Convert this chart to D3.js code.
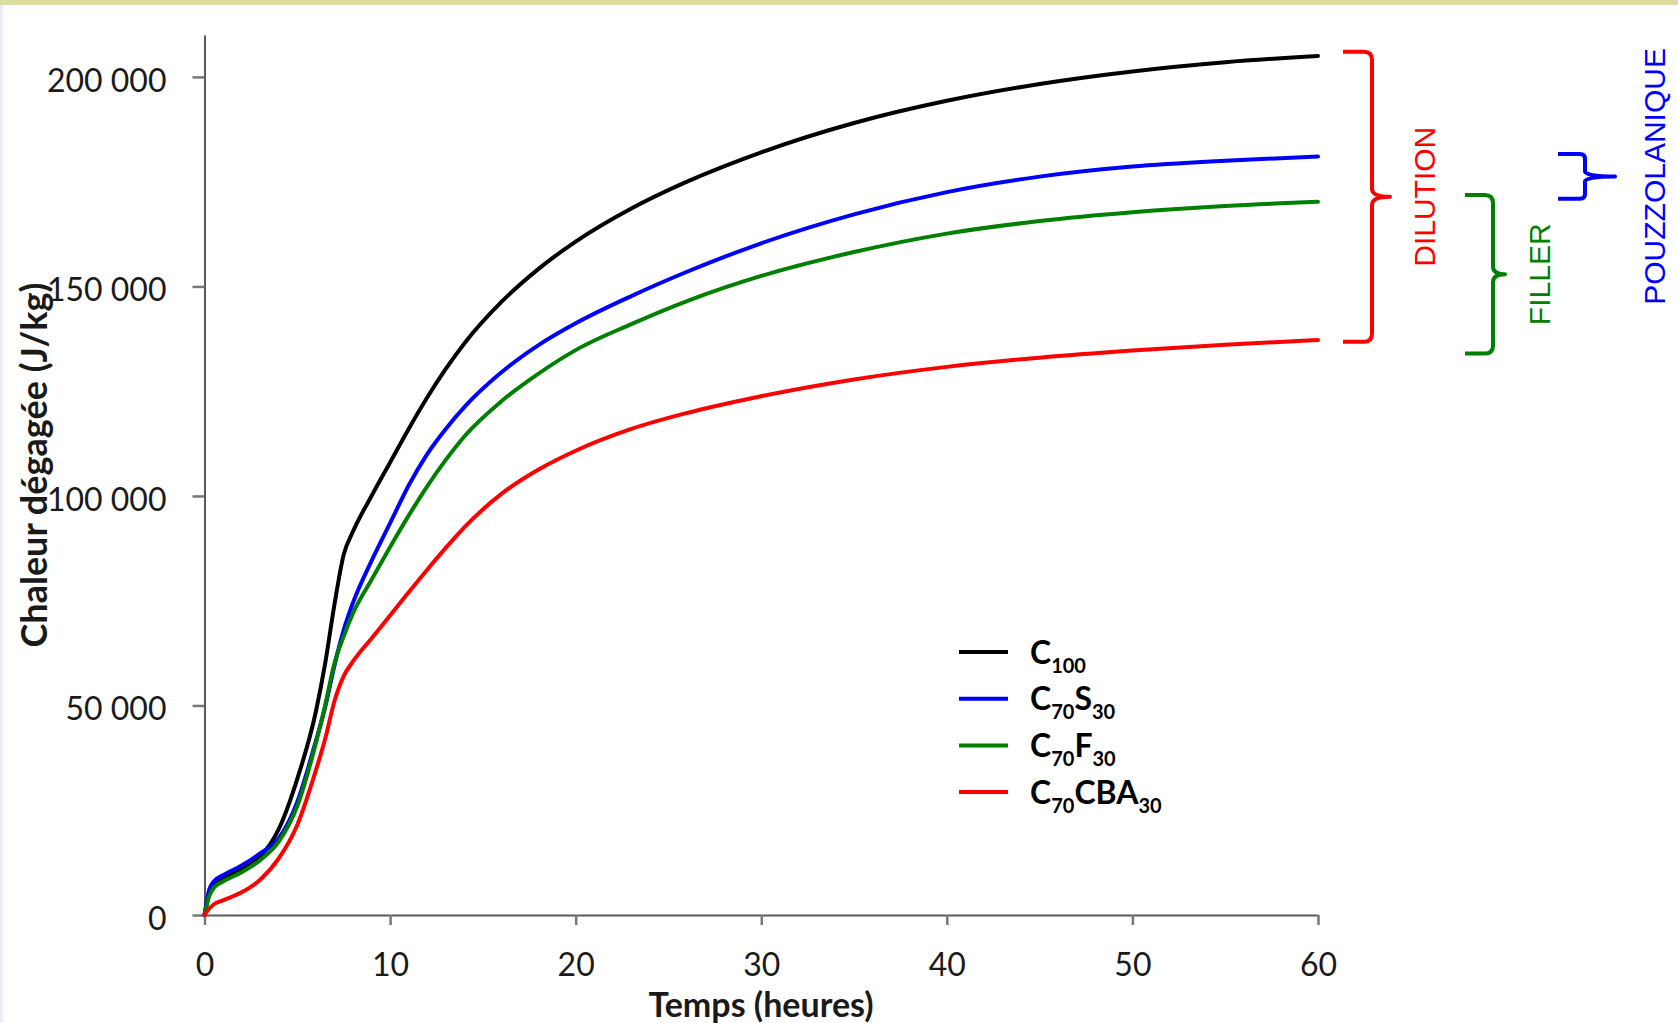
<!DOCTYPE html>
<html lang="fr">
<head>
<meta charset="utf-8">
<title>Chaleur dégagée</title>
<script src="https://cdn.jsdelivr.net/npm/d3@7"></script>
<style>
    html, body { margin: 0; padding: 0; background: #ffffff; }
    svg { display: block; }
</style>
</head>
<body>
<svg id="chart" width="1678" height="1023"></svg>
<script>
// --- Data ---
// Time in hours
const hours = [0, 0.25, 0.5, 1, 2, 3, 4, 5, 6, 6.5, 7, 7.5, 8, 9, 10, 11, 12, 13, 14, 16, 18, 20, 23, 26, 30, 35, 40, 45, 50, 55, 60];
// Cumulated heat released (J/kg) for each mix
const heatC100 = [0, 5000, 7000, 8800, 10800, 13900, 20500, 32500, 48500, 60000, 74000, 86000, 91500, 100000, 108000, 116000, 123500, 130300, 136400, 146300, 154200, 160700, 168600, 175000, 182000, 189000, 194300, 198300, 201300, 203500, 205000];
const heatC70S30 = [0, 6000, 8000, 9500, 11800, 14700, 18300, 27000, 41500, 49500, 59500, 68000, 74500, 84500, 93500, 102500, 110000, 116000, 121200, 129500, 136000, 141200, 147700, 153500, 160300, 167200, 172500, 176200, 178600, 180000, 181000];
const heatC70F30 = [0, 4500, 6500, 8000, 10200, 13100, 17500, 26000, 41000, 50000, 60000, 66500, 72000, 80000, 87800, 95300, 102300, 108600, 114200, 122600, 129200, 134800, 141000, 146500, 152500, 158200, 162600, 165600, 167700, 169200, 170200];
const heatC70CBA30 = [0, 1500, 2500, 3500, 5400, 8400, 13500, 21500, 34500, 42000, 51000, 57000, 60500, 66000, 71500, 77000, 82400, 87600, 92500, 100500, 106300, 110800, 116000, 119800, 123800, 127800, 130800, 133000, 134700, 136100, 137200];

const seriesNames = ["C100", "C70S30", "C70F30", "C70CBA30"];
const seriesValues = [heatC100, heatC70S30, heatC70F30, heatC70CBA30];
const seriesColors = ["#000000", "#0000ff", "#008000", "#ff0000"];

const xTicks = [0, 10, 20, 30, 40, 50, 60];
const yTicks = [0, 50000, 100000, 150000, 200000];

// Brackets on the right: label and the span of heat (J/kg) they cover at 60 h
const bracketLabels = ["DILUTION", "FILLER", "POUZZOLANIQUE"];
const bracketColors = ["#ff0000", "#008000", "#0000ff"];
const bracketSpans = [[206000, 136800], [171800, 134000], [181600, 170900]];

(function () {
    // --- Layout ---
    const WIDTH = 1678;
    const HEIGHT = 1023;
    const LINE_WIDTH = 4;
    const TICK_FONT = "Lato, 'Open Sans', sans-serif";
    const NOTE_FONT = "'Liberation Sans', Arial, sans-serif";

    const svg = d3.select("#chart");

    // slide frame leftovers: yellow band on top, pale strip on the left
    svg.append("rect").attr("x", 0).attr("y", 0).attr("width", WIDTH).attr("height", 5).attr("fill", "#dcdda1");
    svg.append("rect").attr("x", 0).attr("y", 5).attr("width", 3).attr("height", HEIGHT - 5).attr("fill", "#ededf6");

    const x = d3.scaleLinear().domain([0, 60]).range([204.5, 1318]);
    const y = d3.scaleLinear().domain([0, 210000]).range([915, 35]);

    // French number format: "200 000"
    const fr = d3.formatLocale({ decimal: ",", thousands: " ", grouping: [3], currency: ["", " €"] });
    const fmt = fr.format(",d");

    // --- Axes ---
    const yAxis = d3.axisLeft(y)
        .tickValues(yTicks)
        .tickFormat(fmt)
        .tickSize(12)
        .tickSizeOuter(0)
        .tickPadding(26);

    const xAxis = d3.axisBottom(x)
        .tickValues(xTicks)
        .tickSize(10)
        .tickSizeOuter(0)
        .tickPadding(28);

    const gy = svg.append("g").attr("transform", `translate(${x(0)},0)`).call(yAxis);
    const gx = svg.append("g").attr("transform", `translate(0,${y(0)})`).call(xAxis);

    [gx, gy].forEach(g => {
        g.select(".domain").attr("stroke", "#5a5a5a").attr("stroke-width", 2);
        g.selectAll(".tick line").attr("stroke", "#777777").attr("stroke-width", 2.5);
        g.selectAll(".tick text")
            .attr("fill", "#1a1a1a")
            .style("font-family", TICK_FONT)
            .style("font-size", "32px");
    });
    // labels sit a little lower than the tick marks in the original
    gy.selectAll(".tick text").attr("dy", "0.45em");

    // Axis titles
    svg.append("text")
        .attr("transform", "translate(47,465) rotate(-90)")
        .attr("text-anchor", "middle")
        .style("font-family", TICK_FONT)
        .style("font-weight", "bold")
        .style("font-size", "36px")
        .attr("fill", "#1a1a1a")
        .text("Chaleur dégagée (J/kg)");

    svg.append("text")
        .attr("x", 761)
        .attr("y", 1017)
        .attr("text-anchor", "middle")
        .style("font-family", TICK_FONT)
        .style("font-weight", "bold")
        .style("font-size", "34px")
        .attr("fill", "#1a1a1a")
        .text("Temps (heures)");

    // --- Curves ---
    const line = d3.line()
        .x(d => x(d[0]))
        .y(d => y(d[1]))
        .curve(d3.curveMonotoneX);

    svg.append("g")
        .selectAll("path")
        .data(seriesValues)
        .join("path")
        .attr("d", vals => line(hours.map((t, i) => [t, vals[i]])))
        .attr("fill", "none")
        .attr("stroke", (d, i) => seriesColors[i])
        .attr("stroke-width", LINE_WIDTH)
        .attr("stroke-linejoin", "round")
        .attr("stroke-linecap", "round");

    // --- Legend ---
    // digits in the names are written as subscripts
    function writeSubscripted(textSel, name) {
        const parts = name.split(/(\d+)/).filter(p => p.length);
        let low = false;
        parts.forEach(p => {
            const isNum = /^\d+$/.test(p);
            const ts = textSel.append("tspan").text(p);
            if (isNum) {
                ts.style("font-size", "20px").attr("dy", low ? 0 : 9);
                low = true;
            } else {
                ts.attr("dy", low ? -9 : 0);
                low = false;
            }
        });
    }

    const legend = svg.append("g");
    seriesNames.forEach((name, i) => {
        const ly = 652 + i * 46.7;
        legend.append("line")
            .attr("x1", 959).attr("x2", 1008)
            .attr("y1", ly).attr("y2", ly)
            .attr("stroke", seriesColors[i])
            .attr("stroke-width", LINE_WIDTH);
        const txt = legend.append("text")
            .attr("x", 1030)
            .attr("y", ly + 11.5)
            .style("font-family", TICK_FONT)
            .style("font-weight", "bold")
            .style("font-size", "32px")
            .attr("fill", "#000");
        writeSubscripted(txt, name);
    });

    // --- Brackets "}" with rotated labels ---
    // x0: arm end, xv: vertical stroke, xt: tip of the cusp, tx: label baseline
    const bracketGeom = [
        { x0: 1343, xv: 1372, xt: 1390, tx: 1435, r: 8 },
        { x0: 1465, xv: 1493, xt: 1505, tx: 1550, r: 8 },
        { x0: 1558, xv: 1585, xt: 1615, tx: 1665, r: 5 }
    ];

    function bracketPath(gm, yTop, yBot) {
        const yMid = (yTop + yBot) / 2;
        const { x0, xv, xt, r } = gm;
        return `M${x0},${yTop} L${xv - r},${yTop} Q${xv},${yTop} ${xv},${yTop + r}` +
            ` L${xv},${yMid - r} Q${xv},${yMid} ${xt},${yMid}` +
            ` Q${xv},${yMid} ${xv},${yMid + r} L${xv},${yBot - r}` +
            ` Q${xv},${yBot} ${xv - r},${yBot} L${x0},${yBot}`;
    }

    bracketLabels.forEach((label, i) => {
        const gm = bracketGeom[i];
        const yTop = y(bracketSpans[i][0]);
        const yBot = y(bracketSpans[i][1]);
        svg.append("path")
            .attr("d", bracketPath(gm, yTop, yBot))
            .attr("fill", "none")
            .attr("stroke", bracketColors[i])
            .attr("stroke-width", 4)
            .attr("stroke-linejoin", "round");
        svg.append("text")
            .attr("transform", `translate(${gm.tx},${(yTop + yBot) / 2}) rotate(-90)`)
            .attr("text-anchor", "middle")
            .style("font-family", NOTE_FONT)
            .style("font-size", "30px")
            .attr("fill", bracketColors[i])
            .text(label);
    });
})();
</script>
</body>
</html>
